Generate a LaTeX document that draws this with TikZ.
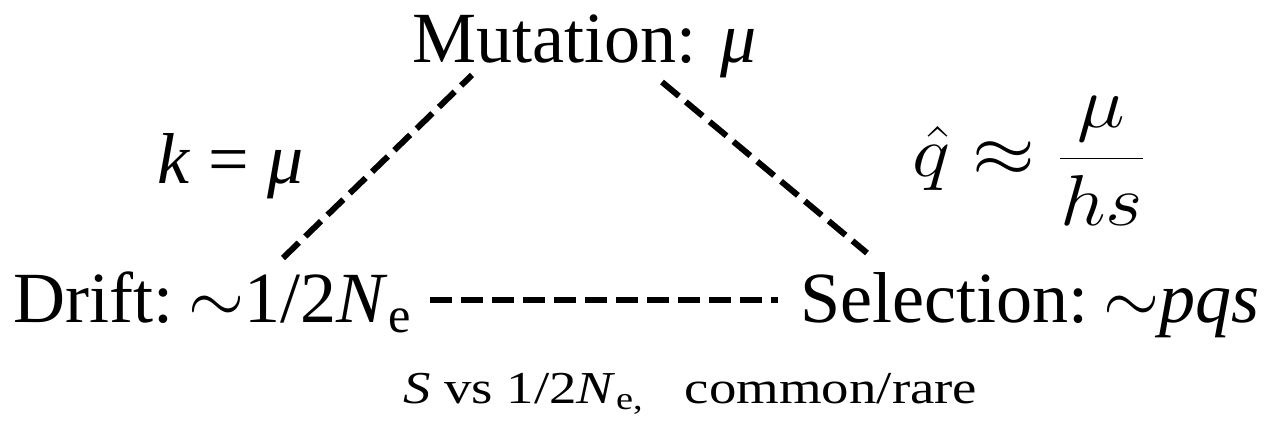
\documentclass[tikz,border=0pt]{standalone}
\usepackage{fix-cm}
\usepackage{fontspec}
\setmainfont{Liberation Serif}
\usetikzlibrary{positioning,calc}
\newcommand{\Ne}{\textit{N}\textsubscript{e}}
\newcommand{\about}{\kern-0.12em$\sim$}

\begin{document}
\begin{tikzpicture}[
    lbl/.style={inner sep=0pt,font=\fontsize{41}{48}\selectfont},
    small/.style={inner sep=0pt,font=\fontsize{26}{30}\selectfont},
    link/.style={line width=0.12cm,dash pattern=on 0.44cm off 0.18cm}]
  \useasboundingbox (0,0) rectangle (25.38,8.56);

  % the three forces
  \node[lbl,anchor=base west] (mut) at (8.24,7.32) {Mutation: \textit{μ}};
  \node[lbl,anchor=base west] (drift) at (0.26,2.12) {Drift: \about1/2\Ne};
  \node[lbl,anchor=base east] (sel) at (25.20,2.12) {Selection: \about\textit{pqs}};

  % side notes
  \node[lbl,anchor=base west] (keq) at (3.14,4.90) {\textit{k} = \textit{μ}};
  \node[lbl,anchor=base west] (qhat) at (18.24,5.04)
    {\scalebox{1.12}[1]{$\displaystyle \hat{q}\approx\frac{\mu}{hs}$}};
  \node[small,anchor=base west] (cmp) at (8.06,0.50)
    {\scalebox{1.2}[1]{\textit{S} vs 1/2\textit{N}\textsubscript{e,}\ \ \ common/rare}};

  % dashed links
  \coordinate (dm) at (5.66,3.40);
  \coordinate (md) at (9.44,7.06);
  \coordinate (ms) at (13.24,6.92);
  \coordinate (sm) at (17.34,3.50);
  \coordinate (ds) at (8.60,2.56);
  \coordinate (sd) at (15.56,2.56);
  \draw[link] (dm) -- (md);
  \draw[link] (ms) -- (sm);
  \draw[link] (ds) -- (sd);
\end{tikzpicture}
\end{document}
